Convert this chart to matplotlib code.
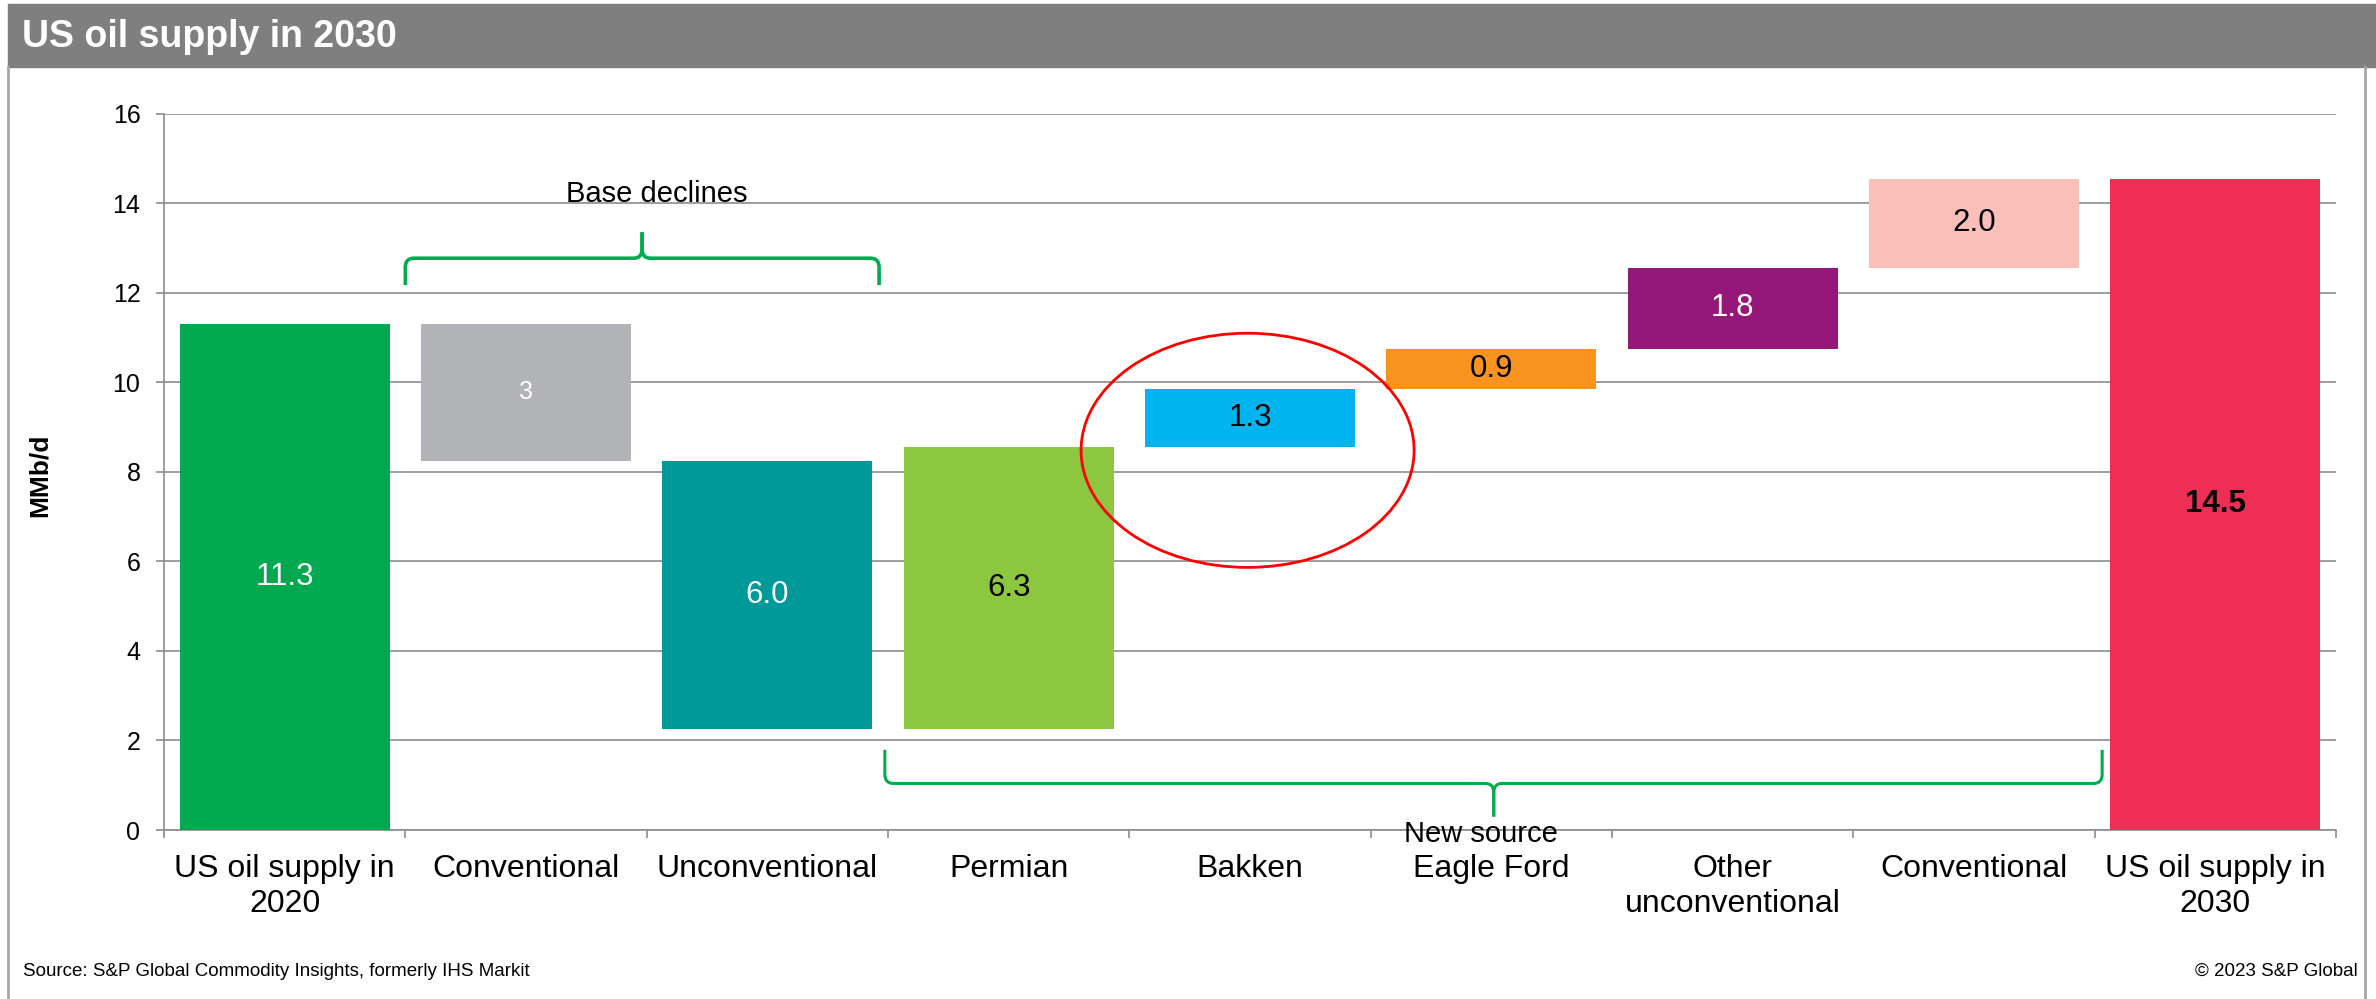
import matplotlib
matplotlib.use("Agg")
import matplotlib.pyplot as plt
from matplotlib.patches import Rectangle, Ellipse, PathPatch
from matplotlib.path import Path

plt.rcParams["font.family"] = ["Liberation Sans", "DejaVu Sans"]

# --- Data ---
categories = ["US oil supply in\n2020", "Conventional", "Unconventional", "Permian", "Bakken",
              "Eagle Ford", "Other\nunconventional", "Conventional", "US oil supply in\n2030"]
start_value = 11.3
changes = [-3.05, -6.0, 6.3, 1.3, 0.9, 1.8, 2.0]
value_labels = ["11.3", "3", "6.0", "6.3", "1.3", "0.9", "1.8", "2.0", "14.5"]
colors = ["#00A94F", "#B1B3B6", "#00999A", "#8DC63F", "#00B5EF", "#F7931E", "#96177A", "#F9BFB8", "#EE2E55"]
label_colors = ["white", "white", "white", "black", "black", "black", "white", "black", "black"]
y_ticks = [0, 2, 4, 6, 8, 10, 12, 14, 16]

# --- Waterfall bottoms / heights ---
bottoms = [0]
heights = [start_value]
level = start_value
for c in changes:
    if c < 0:
        bottoms.append(level + c)
        heights.append(-c)
    else:
        bottoms.append(level)
        heights.append(c)
    level += c
bottoms.append(0)
heights.append(level)

W, H = 2376, 999
fig = plt.figure(figsize=(W / 100, H / 100), dpi=100)
ax = fig.add_axes([164 / W, 1 - 830 / H, (2336 - 164) / W, (830 - 113.6) / H])

grid_c = "#8C8C8C"
x = list(range(len(categories)))
ax.bar(x, heights, bottom=bottoms, width=0.87, color=colors, zorder=3)

for i in x:
    bold = i == len(categories) - 1
    size = 18 if value_labels[i] == "3" else 22.5
    ax.text(i, bottoms[i] + heights[i] / 2, value_labels[i], ha="center", va="center",
            color=label_colors[i], fontsize=size, fontweight="bold" if bold else "normal", zorder=4)

ax.set_xlim(-0.5, len(categories) - 0.5)
ax.set_ylim(0, 16)
ax.set_yticks(y_ticks)
ax.set_yticklabels([str(t) for t in y_ticks], fontsize=18)
ax.yaxis.grid(True, color=grid_c, lw=1.2, zorder=0)
ax.set_axisbelow(True)
ax.tick_params(axis="y", length=6, width=1.2, color=grid_c, pad=11)

ax.set_xticks(x)
ax.set_xticklabels(categories, fontsize=23, linespacing=1.25)
ax.set_xticks([i + 0.5 for i in range(-1, len(categories))], minor=True)
ax.tick_params(axis="x", which="major", length=0, pad=17)
ax.tick_params(axis="x", which="minor", length=6, width=1.2, color=grid_c)

for s in ["top", "right"]:
    ax.spines[s].set_visible(False)
for s in ["left", "bottom"]:
    ax.spines[s].set_color(grid_c)
    ax.spines[s].set_linewidth(1.2)


# --- Braces ---
def brace(x0, x1, xm, y_end, y_bar, y_tip, lw):
    rx, ry = 0.035, 0.2
    d = 1 if y_end > y_bar else -1
    for xe, sx in [(x0, 1), (x1, -1)]:
        verts = [(xe, y_end), (xe, y_bar + d * ry), (xe, y_bar), (xe + sx * rx, y_bar),
                 (xm - sx * rx, y_bar), (xm, y_bar), (xm, y_bar - d * ry), (xm, y_tip)]
        codes = [Path.MOVETO, Path.LINETO, Path.CURVE3, Path.CURVE3,
                 Path.LINETO, Path.CURVE3, Path.CURVE3, Path.LINETO]
        ax.add_patch(PathPatch(Path(verts, codes), fill=False, ec="#00AD4E", lw=lw,
                               clip_on=False, zorder=5))


brace(0.5, 2.463, 1.481, 12.17, 12.77, 13.35, 2.6)
brace(2.487, 7.531, 5.01, 1.79, 1.04, 0.30, 2.2)

ax.text(1.541, 14.02, "Base declines", ha="center", va="baseline", fontsize=21, zorder=5)
ax.text(4.958, -0.26, "New source", ha="center", va="baseline", fontsize=21, clip_on=False, zorder=5)

ax.add_patch(Ellipse((3.99, 8.48), 1.38, 5.23, fill=False, ec="#FF0000", lw=2, zorder=6))

# --- Frame, title, footer ---
fig.patches.append(Rectangle((8 / W, 1 - 67 / H), 1 - 8 / W, 63 / H, transform=fig.transFigure,
                             color="#7F7F7F", zorder=0))
fig.text(22 / W, 1 - 37 / H, "US oil supply in 2030", color="white", fontsize=27,
         fontweight="bold", va="center", ha="left")
for xb in [8, 2365]:
    fig.add_artist(plt.Line2D([xb / W, xb / W], [0, 1 - 67 / H], transform=fig.transFigure,
                              color="#A6A6A6", lw=2))

fig.text(40 / W, 1 - 475 / H, "MMb/d", rotation=90, fontsize=19, fontweight="bold",
         ha="center", va="center")
fig.text(23 / W, 1 - 971 / H, "Source: S&P Global Commodity Insights, formerly IHS Markit",
         fontsize=13.5, ha="left", va="center")
fig.text(2358 / W, 1 - 971 / H, "© 2023 S&P Global", fontsize=13.5, ha="right", va="center")

fig.savefig("out.png", dpi=100)
